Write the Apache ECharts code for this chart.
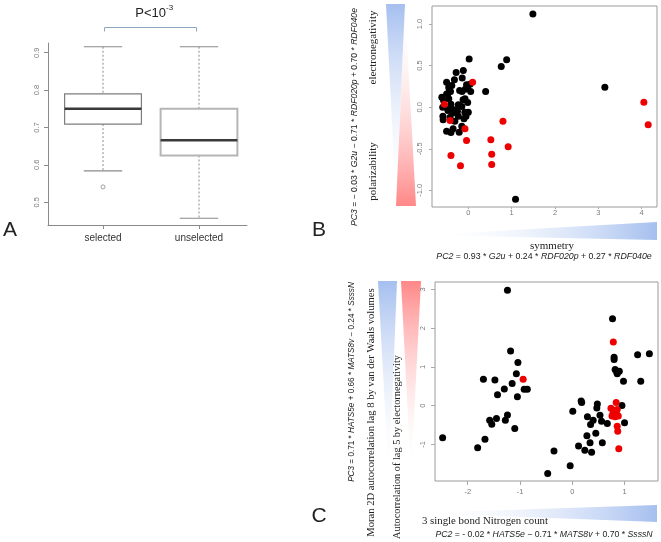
<!DOCTYPE html>
<html><head><meta charset="utf-8">
<script src="https://cdn.jsdelivr.net/npm/echarts@6/dist/echarts.min.js"></script>
<style>html,body{margin:0;padding:0;background:#fff}#c{width:661px;height:542px}</style>
</head><body><div id="c"></div>
<script>
// ---- Panel A: boxplot ----
const boxCategories = ['selected', 'unselected'];
const boxMin    = [0.584, 0.457];
const boxQ1     = [0.709, 0.625];
const boxMedian = [0.750, 0.666];
const boxQ3     = [0.790, 0.750];
const boxMax    = [0.916, 0.916];
const boxOutliers = [[1, 0.541]];
const boxTicks = [0.5, 0.6, 0.7, 0.8, 0.9];

// ---- Panel B: PC2 vs PC3 ----
const bTicksX = [0, 1, 2, 3, 4];
const bTicksY = [-1, -0.5, 0, 0.5, 1];
const bBlack = [
  [1.49, 1.12], [1.09, -1.106], [3.15, 0.24], [0.76, 0.49], [0.885, 0.57], [0.40, 0.19], [0.02, 0.58],
  [-0.115, 0.44], [-0.28, 0.416], [-0.14, 0.35], [-0.32, 0.33], [-0.50, 0.30], [0.04, 0.276],
  [-0.015, 0.25], [-0.07, 0.216], [-0.145, 0.19], [0.055, 0.19], [-0.61, 0.12], [-0.475, 0.156],
  [-0.38, 0.26], [-0.44, 0.22], [-0.41, 0.19], [-0.45, 0.24], [-0.57, 0.08], [-0.076, 0.10],
  [-0.014, 0.055], [-0.40, 0.036], [-0.23, 0.028], [-0.415, -0.01], [-0.31, -0.03],
  [-0.15, 0.007], [0.0, -0.06], [-0.23, -0.11], [-0.053, -0.11], [-0.585, -0.11], [-0.58, -0.15],
  [-0.31, -0.17], [-0.15, -0.23], [-0.21, -0.30], [-0.50, -0.29], [-0.40, -0.305], [-0.35, -0.26],
  [-0.10, -0.14], [-0.12, 0.09], [-0.45, 0.10], [-0.50, 0.16], [-0.36, -0.07], [-0.42, -0.12],
  [-0.59, 0.0], [-0.25, -0.05], [-0.47, -0.04], [-0.08, -0.06], [-0.20, 0.20], [-0.04, 0.27]
];
const bRed = [
  [0.10, 0.30], [-0.55, 0.036], [-0.42, -0.16], [-0.076, -0.26], [-0.04, -0.40], [-0.40, -0.58],
  [-0.18, -0.705], [0.52, -0.39], [0.54, -0.565], [0.54, -0.69], [0.80, -0.17], [0.92, -0.477],
  [4.05, 0.06], [4.15, -0.21]
];

// ---- Panel C: PC2 vs PC3 ----
const cTicksX = [-2, -1, 0, 1];
const cTicksY = [-1, 0, 1, 2, 3];
const cBlack = [
  [-1.24, 2.98], [-2.48, -0.83], [-1.81, -1.09], [-1.67, -0.87], [-1.70, 0.68], [-1.48, 0.66],
  [-1.43, 0.28], [-1.30, 0.43], [-1.18, 1.41], [-1.04, 1.11], [-1.15, 0.57], [-1.07, 0.82],
  [-1.05, 0.23], [-0.92, 0.42], [-0.86, 0.42], [-1.24, -0.24], [-1.28, -0.38], [-1.45, -0.33],
  [-1.58, -0.38], [-1.54, -0.48], [-1.10, -0.59],
  [-0.47, -1.75], [-0.35, -1.17], [-0.04, -1.55], [0.01, -0.145], [0.17, 0.12], [0.18, 0.08],
  [0.12, -1.04], [0.24, -1.15], [0.37, -1.20], [0.28, -0.78], [0.34, -0.96], [0.575, -0.96],
  [0.45, -0.71], [0.29, -0.29], [0.35, -0.49], [0.40, -0.38], [0.47, -0.06], [0.48, 0.04],
  [0.53, -0.25], [0.56, -0.40], [0.67, -0.46], [0.77, 2.24], [0.80, 1.25], [0.80, 1.19],
  [0.82, 0.93], [0.85, 0.87], [0.90, 0.89], [0.86, 0.82], [0.98, 0.63], [0.95, 0.0],
  [1.0, -0.44], [1.25, 1.31], [1.475, 1.34], [1.31, 0.63]
];
const cRed = [
  [-0.94, 0.68], [0.785, 1.64], [0.84, 0.08], [0.74, -0.07], [0.80, -0.12], [0.86, -0.10],
  [0.78, -0.20], [0.85, -0.22], [0.76, -0.27], [0.82, -0.29], [0.88, -0.27], [0.80, -0.25],
  [0.86, -0.53], [0.87, -0.66], [0.89, -1.11]
];

const SANS = 'Liberation Sans';
const SERIF = 'Liberation Serif';
const BLUE = '#a5bfef';
const RED = '#ff8787';

const boxData = boxCategories.map((c, i) => [i + 1, boxMin[i], boxQ1[i], boxMedian[i], boxQ3[i], boxMax[i]]);

function renderBox(params, api) {
  const x = api.value(0);
  const lo = api.coord([x, api.value(1)]);
  const q1 = api.coord([x, api.value(2)]);
  const md = api.coord([x, api.value(3)]);
  const q3 = api.coord([x, api.value(4)]);
  const hi = api.coord([x, api.value(5)]);
  const half = api.size([0.4, 0])[0];
  const cap = api.size([0.2, 0])[0];
  const boxStroke = params.dataIndex === 0 ? '#7d7d7d' : '#b5b5b5';
  const boxW = params.dataIndex === 0 ? 1.2 : 2;
  const dash = { stroke: '#8a8a8a', lineWidth: 1, lineDash: [2, 2] };
  const solid = { stroke: '#8a8a8a', lineWidth: 1.2 };
  return {
    type: 'group',
    children: [
      { type: 'line', shape: { x1: hi[0], y1: hi[1], x2: q3[0], y2: q3[1] }, style: dash },
      { type: 'line', shape: { x1: q1[0], y1: q1[1], x2: lo[0], y2: lo[1] }, style: dash },
      { type: 'line', shape: { x1: hi[0] - cap, y1: hi[1], x2: hi[0] + cap, y2: hi[1] }, style: solid },
      { type: 'line', shape: { x1: lo[0] - cap, y1: lo[1], x2: lo[0] + cap, y2: lo[1] }, style: solid },
      { type: 'rect', shape: { x: q3[0] - half, y: q3[1], width: half * 2, height: q1[1] - q3[1] },
        style: { fill: '#fff', stroke: boxStroke, lineWidth: boxW } },
      { type: 'line', shape: { x1: md[0] - half, y1: md[1], x2: md[0] + half, y2: md[1] },
        style: { stroke: '#3a3a3a', lineWidth: 2.5 } }
    ]
  };
}

function grad(x0, y0, x1, y1, c0, c1) {
  return new echarts.graphic.LinearGradient(x0, y0, x1, y1, [{ offset: 0, color: c0 }, { offset: 1, color: c1 }]);
}
function tri(points, fill) {
  return { type: 'polygon', silent: true, shape: { points: points }, style: { fill: fill } };
}
function rich(size) {
  return {
    i: { fontStyle: 'italic', fontSize: size, fontFamily: SANS, fill: '#222' },
    n: { fontSize: size, fontFamily: SANS, fill: '#222' }
  };
}
function vtext(x, y, text, font, size, richObj) {
  return { type: 'text', silent: true, x: x, y: y, rotation: Math.PI / 2,
    style: { text: text, fontFamily: font, fontSize: size, fill: '#222', align: 'center', verticalAlign: 'middle', rich: richObj } };
}
function htext(x, y, text, font, size, align, richObj) {
  return { type: 'text', silent: true, x: x, y: y,
    style: { text: text, fontFamily: font, fontSize: size, fill: '#222', align: align || 'center', verticalAlign: 'middle', rich: richObj } };
}

const tickLabel = { color: '#7a7a7a', fontSize: 7.5, fontFamily: SANS };

const chart = echarts.init(document.getElementById('c'), null, { renderer: 'canvas' });
chart.setOption({
  animation: false,
  backgroundColor: '#fff',
  grid: [
    { left: 48, top: 43, width: 199, height: 182 },
    { left: 432, top: 6, width: 225, height: 201, show: true, borderColor: '#9a9a9a', borderWidth: 1, backgroundColor: 'transparent' },
    { left: 435, top: 282, width: 223, height: 199, show: true, borderColor: '#9a9a9a', borderWidth: 1, backgroundColor: 'transparent' }
  ],
  xAxis: [
    { gridIndex: 0, type: 'value', min: 0.427, max: 2.5, splitLine: { show: false },
      axisLine: { onZero: false, lineStyle: { color: '#8a8a8a' } },
      axisTick: { customValues: [1, 2], length: 4, lineStyle: { color: '#8a8a8a' } },
      axisLabel: { customValues: [1, 2], margin: 8, color: '#333', fontSize: 10, fontFamily: SANS,
        formatter: v => boxCategories[Math.round(v) - 1] } },
    { gridIndex: 1, type: 'value', min: -0.837, max: 4.353, splitLine: { show: false },
      axisLine: { show: false, onZero: false },
      axisTick: { customValues: bTicksX, length: 2, lineStyle: { color: '#aaa' } },
      axisLabel: Object.assign({ customValues: bTicksX, margin: 2, formatter: v => String(v) }, tickLabel) },
    { gridIndex: 2, type: 'value', min: -2.626, max: 1.64, splitLine: { show: false },
      axisLine: { show: false, onZero: false },
      axisTick: { customValues: cTicksX, length: 4, lineStyle: { color: '#aaa' } },
      axisLabel: Object.assign({ customValues: cTicksX, margin: 7, formatter: v => String(v) }, tickLabel) }
  ],
  yAxis: [
    { gridIndex: 0, type: 'value', min: 0.439, max: 0.926, splitLine: { show: false },
      axisLine: { show: true, onZero: false, lineStyle: { color: '#8a8a8a' } },
      axisTick: { show: true, customValues: boxTicks, length: 4, lineStyle: { color: '#8a8a8a' } },
      axisLabel: Object.assign({ customValues: boxTicks, rotate: 90, margin: 7, formatter: v => v.toFixed(1) }, tickLabel) },
    { gridIndex: 1, type: 'value', min: -1.2, max: 1.2165, splitLine: { show: false },
      axisLine: { show: false, onZero: false },
      axisTick: { show: true, customValues: bTicksY, length: 3, lineStyle: { color: '#aaa' } },
      axisLabel: Object.assign({ customValues: bTicksY, rotate: 90, margin: 8, formatter: v => v.toFixed(1) }, tickLabel) },
    { gridIndex: 2, type: 'value', min: -1.945, max: 3.19, splitLine: { show: false },
      axisLine: { show: false, onZero: false },
      axisTick: { show: true, customValues: cTicksY, length: 4, lineStyle: { color: '#aaa' } },
      axisLabel: Object.assign({ customValues: cTicksY, rotate: 90, margin: 8, formatter: v => String(v) }, tickLabel) }
  ],
  series: [
    { type: 'custom', xAxisIndex: 0, yAxisIndex: 0, renderItem: renderBox, data: boxData, encode: { x: 0, y: [1, 2, 3, 4, 5] } },
    { type: 'scatter', xAxisIndex: 0, yAxisIndex: 0, data: boxOutliers, symbol: 'circle', symbolSize: 4,
      itemStyle: { color: '#fff', borderColor: '#8a8a8a', borderWidth: 1 } },
    { type: 'scatter', xAxisIndex: 1, yAxisIndex: 1, data: bBlack, symbolSize: 7, itemStyle: { color: '#000', opacity: 1 } },
    { type: 'scatter', xAxisIndex: 1, yAxisIndex: 1, data: bRed, symbolSize: 7, itemStyle: { color: '#ee0000', opacity: 1 } },
    { type: 'scatter', xAxisIndex: 2, yAxisIndex: 2, data: cBlack, symbolSize: 7, itemStyle: { color: '#000', opacity: 1 } },
    { type: 'scatter', xAxisIndex: 2, yAxisIndex: 2, data: cRed, symbolSize: 7, itemStyle: { color: '#ee0000', opacity: 1 } }
  ],
  graphic: [
    // Panel A annotations
    htext(166, 13, 'P<10', SANS, 13, 'right'),
    htext(166, 8, '-3', SANS, 8, 'left'),
    { type: 'polyline', silent: true, shape: { points: [[104.5, 31.5], [104.5, 27.5], [196.5, 27.5], [196.5, 31.5]] },
      style: { stroke: '#8ea6c2', lineWidth: 1, fill: null } },
    htext(10, 230, 'A', SANS, 21),
    htext(319, 230, 'B', SANS, 21),
    htext(319, 516, 'C', SANS, 21),
    // Panel B decorations
    tri([[386, 4], [405, 4], [396, 204]], grad(0, 0, 0, 1, BLUE, 'rgba(255,255,255,0)')),
    tri([[405, 6], [396, 206], [416, 206]], grad(0, 0, 0, 1, 'rgba(255,255,255,0)', RED)),
    tri([[423, 235], [657, 222], [657, 240]], grad(0, 0, 1, 0, 'rgba(255,255,255,0)', BLUE)),
    vtext(355, 117, '{i|PC3}{n| = − 0.03 * }{i|G2u}{n| − 0.71 * }{i|RDF020p}{n| + 0.70 * }{i|RDF040e}', SANS, 8.6, rich(8.6)),
    vtext(373, 47.5, 'electronegativity', SERIF, 11),
    vtext(373, 171.5, 'polarizability', SERIF, 11),
    htext(552, 246, 'symmetry', SERIF, 11),
    htext(544, 257, '{i|PC2}{n| = 0.93 * }{i|G2u}{n| + 0.24 * }{i|RDF020p}{n| + 0.27 * }{i|RDF040e}', SANS, 8.8, 'center', rich(8.8)),
    // Panel C decorations
    tri([[378, 281], [397, 281], [389, 481]], grad(0, 0, 0, 1, BLUE, 'rgba(255,255,255,0)')),
    tri([[401, 281], [421, 281], [411, 476]], grad(0, 0, 0, 1, RED, 'rgba(255,255,255,0)')),
    tri([[418, 513], [657, 505], [657, 522]], grad(0, 0, 1, 0, 'rgba(255,255,255,0)', BLUE)),
    vtext(352, 382, '{i|PC3}{n| = 0.71 * }{i|HATS5e}{n| + 0.66 * }{i|MATS8v}{n| − 0.24 * }{i|SsssN}', SANS, 8.2, rich(8.2)),
    vtext(371, 412.5, 'Moran 2D autocorrelation lag 8 by van der Waals volumes', SERIF, 10.6),
    vtext(397, 447, 'Autocorrelation of lag 5 by electornegativity', SERIF, 10.3),
    htext(422, 521, '3 single bond Nitrogen count', SERIF, 10.8, 'left'),
    htext(544, 535, '{i|PC2}{n| = - 0.02 * }{i|HATS5e}{n| − 0.71 * }{i|MATS8v}{n| + 0.70 * }{i|SsssN}', SANS, 8.7, 'center', rich(8.7))
  ]
});
</script>
</body></html>
